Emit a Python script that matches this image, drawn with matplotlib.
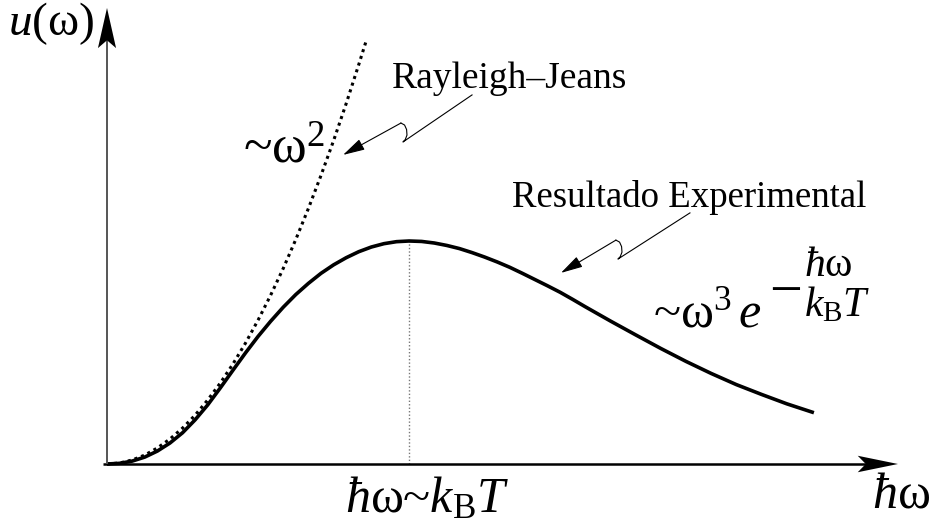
import matplotlib.pyplot as plt
from matplotlib.patches import Polygon

plt.rcParams["mathtext.fontset"] = "custom"
plt.rcParams["mathtext.rm"] = "Liberation Serif"
plt.rcParams["mathtext.it"] = "Liberation Serif:italic"
plt.rcParams["mathtext.bf"] = "Liberation Serif:bold"
plt.rcParams["font.family"] = "Liberation Serif"

# Spectral energy density, in units where hbar*omega/(kB*T) = 3 sits at the peak
omega = [0.0, 0.125, 0.25, 0.375, 0.5, 0.625, 0.75, 0.875, 1.0, 1.125, 1.25,
         1.375, 1.5, 1.625, 1.75, 1.875, 2.0, 2.125, 2.25, 2.375, 2.5, 2.625,
         2.75, 2.875, 3.0, 3.125, 3.25, 3.375, 3.5, 3.625, 3.75, 3.875, 4.0,
         4.125, 4.25, 4.375, 4.5, 4.625, 4.75, 4.875, 5.0, 5.25, 5.5, 5.75,
         6.0, 6.25, 6.5, 6.75, 7.02]
u_exp = [0.0, 0.003, 0.013, 0.031, 0.058, 0.094, 0.140, 0.198, 0.265, 0.341,
         0.420, 0.498, 0.572, 0.640, 0.703, 0.760, 0.810, 0.855, 0.893, 0.925,
         0.952, 0.973, 0.988, 0.997, 1.0, 0.998, 0.991, 0.980, 0.966, 0.948,
         0.928, 0.906, 0.882, 0.855, 0.827, 0.799, 0.770, 0.738, 0.705, 0.673,
         0.641, 0.579, 0.518, 0.460, 0.406, 0.356, 0.312, 0.270, 0.230]

# Rayleigh-Jeans (classical) prediction
omega_rj = [0.0, 0.125, 0.25, 0.375, 0.5, 0.625, 0.75, 0.875, 1.0, 1.125,
            1.25, 1.375, 1.5, 1.625, 1.75, 1.875, 2.0, 2.125, 2.25, 2.375,
            2.5, 2.57]
u_rj = [0.0, 0.0045, 0.018, 0.040, 0.072, 0.112, 0.161, 0.219, 0.287, 0.363,
        0.448, 0.542, 0.645, 0.757, 0.877, 1.007, 1.146, 1.294, 1.450, 1.616,
        1.791, 1.892]

X_TIP, Y_TIP = 7.855, 2.045

fig = plt.figure(figsize=(9.33, 5.27), dpi=100)
ax = fig.add_axes([0, 0, 1, 1])
ax.set_xlim(-1.0626, 8.2026)
ax.set_ylim(-0.2825, 2.0807)
ax.axis("off")

# axes with notched arrow heads
ax.plot([-0.04, X_TIP - 0.2], [0, 0], color="black", lw=1.8,
        solid_capstyle="butt", zorder=3)
ax.plot([0, 0], [0, Y_TIP - 0.1], color="#555555", lw=1.4,
        solid_capstyle="butt", zorder=3)
ax.add_patch(Polygon([(X_TIP, 0), (X_TIP - 0.40, 0.037),
                      (X_TIP - 0.32, 0), (X_TIP - 0.40, -0.037)],
                     closed=True, color="black", lw=0, zorder=4))
ax.add_patch(Polygon([(0, Y_TIP), (-0.09, Y_TIP - 0.18),
                      (0, Y_TIP - 0.145), (0.09, Y_TIP - 0.18)],
                     closed=True, color="black", lw=0, zorder=4))

# curves
ax.plot(omega_rj, u_rj, color="black", lw=2.2, dashes=(1, 1.3),
        dash_capstyle="butt", zorder=2)
ax.plot(omega, u_exp, color="black", lw=2.6, solid_joinstyle="round",
        solid_capstyle="butt", zorder=2)

# peak marker
i_max = u_exp.index(max(u_exp))
ax.plot([omega[i_max], omega[i_max]], [0, u_exp[i_max]], color="#777777",
        lw=1.0, dashes=(1, 1.5), zorder=1)

# labels
ax.text(-0.983, 1.924, r"$u(\mathrm{\omega})$", fontsize=34, va="baseline")
ax.text(1.351, 1.350, r"~$\mathrm{\omega}^2$", fontsize=38, va="baseline")
ax.text(2.830, 1.686, "Rayleigh\u2013Jeans", fontsize=27, va="baseline")
ax.text(4.022, 1.152, "Resultado Experimental", fontsize=26.5,
        va="baseline")

# ~ w^3 exp(-hbar w / kB T), exponent set by hand
ax.text(5.422, 0.614, r"~$\mathrm{\omega}^3\,e$", fontsize=36, va="baseline")
ax.text(6.574, 0.700, "\u2212", fontsize=42, va="baseline")
ax.text(6.921, 0.845, r"$\hbar\mathrm{\omega}$", fontsize=30, va="baseline")
ax.text(6.921, 0.664, r"$k_\mathrm{B}T$", fontsize=30, va="baseline")

ax.text(2.363, -0.215, r"$\hbar\mathrm{\omega}$~$k_\mathrm{B}T$",
        fontsize=36, va="baseline")
ax.text(7.597, -0.193, r"$\hbar\mathrm{\omega}$", fontsize=36,
        va="baseline")

# squiggly pointers
arrow_kw = dict(arrowstyle="-|>,head_length=0.75,head_width=0.2", lw=0.8,
                color="black", mutation_scale=18, shrinkA=0, shrinkB=0)
ax.plot([3.625, 2.939, 2.962, 2.979, 2.975, 2.955, 2.919],
        [1.655, 1.444, 1.455, 1.475, 1.500, 1.520, 1.529],
        color="black", lw=0.8, solid_joinstyle="round")
ax.annotate("", xy=(2.344, 1.386), xytext=(2.919, 1.529), arrowprops=arrow_kw)
ax.plot([5.789, 5.074, 5.097, 5.114, 5.110, 5.090, 5.054],
        [1.126, 0.919, 0.930, 0.950, 0.975, 0.995, 1.004],
        color="black", lw=0.8, solid_joinstyle="round")
ax.annotate("", xy=(4.508, 0.857), xytext=(5.054, 1.004), arrowprops=arrow_kw)

fig.savefig("out.png", dpi=100)
